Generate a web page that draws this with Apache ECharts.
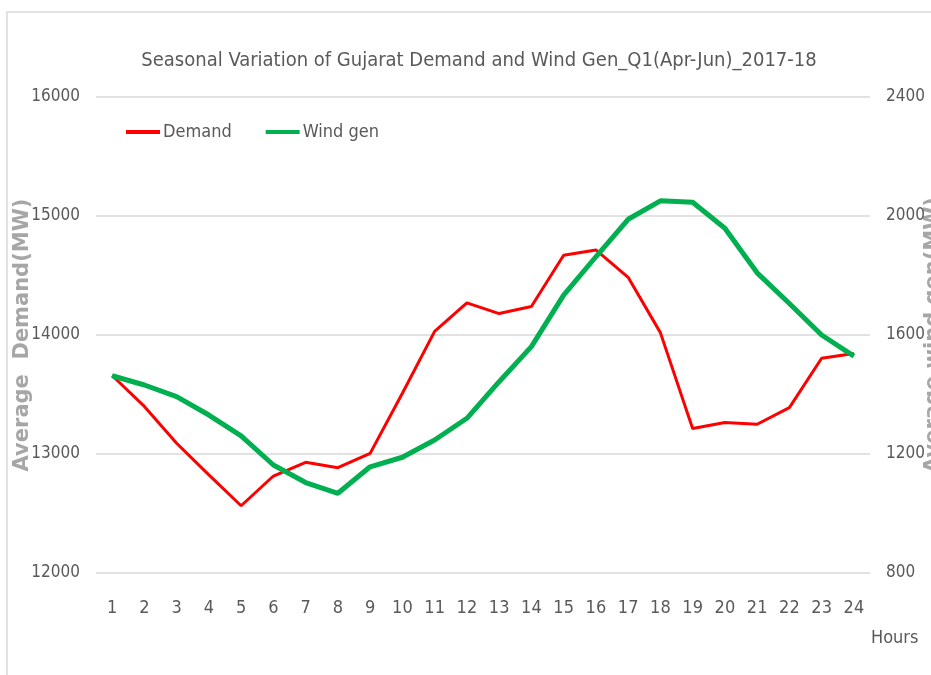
<!DOCTYPE html>
<html>
<head>
<meta charset="utf-8">
<script src="https://cdn.jsdelivr.net/npm/echarts@6/dist/echarts.min.js"></script>
<style>
  html, body { margin: 0; padding: 0; background: #fff; }
  #chart { width: 931px; height: 675px; }
</style>
</head>
<body>
<div id="chart"></div>
<script>
// hours of the day
const hours = ['1', '2', '3', '4', '5', '6', '7', '8', '9', '10', '11', '12',
  '13', '14', '15', '16', '17', '18', '19', '20', '21', '22', '23', '24'];
// average demand, MW (left axis)
const demand = [13660, 13400, 13090, 12825, 12565, 12815, 12930, 12885, 13005, 13510, 14030, 14270,
  14180, 14240, 14670, 14715, 14485, 14020, 13215, 13265, 13250, 13390, 13805, 13845];
// average wind gen, MW (right axis)
const windGen = [1463, 1432, 1393, 1331, 1261, 1163, 1104, 1068, 1157, 1189, 1247, 1320,
  1443, 1561, 1734, 1863, 1989, 2051, 2046, 1959, 1809, 1706, 1600, 1529];

const font = "'DejaVu Sans Condensed', 'Liberation Sans Narrow', Lato, sans-serif";
const grey = '#595959';

let mychart = echarts.init(document.getElementById('chart'));
mychart.setOption({
  animation: false,
  textStyle: { fontFamily: font },
  title: {
    text: 'Seasonal Variation of Gujarat Demand and Wind Gen_Q1(Apr-Jun)_2017-18',
    left: 474,
    textAlign: 'center',
    top: 46,
    textStyle: { color: grey, fontSize: 20, fontWeight: 'normal', fontFamily: font }
  },
  legend: {
    left: 121,
    top: 118,
    icon: 'rect',
    itemWidth: 34,
    itemHeight: 4,
    itemGap: 34,
    textStyle: { color: grey, fontSize: 18, fontFamily: font, padding: [0, 0, 0, -2] },
    data: ['Demand', 'Wind gen']
  },
  grid: { left: 96, right: 61, top: 97, bottom: 102, outerBoundsMode: 'none', containLabel: false },
  xAxis: {
    type: 'category',
    data: hours,
    boundaryGap: true,
    axisLine: { show: false },
    axisTick: { show: false },
    axisLabel: { color: grey, fontSize: 18, margin: 26, interval: 0, fontFamily: font }
  },
  yAxis: [
    {
      type: 'value',
      min: 12000,
      max: 16000,
      interval: 1000,
      name: 'Average  Demand(MW)',
      nameLocation: 'middle',
      nameGap: 63,
      nameMoveOverlap: false,
      nameTextStyle: { color: '#a6a6a6', fontSize: 21, fontWeight: 'bold', fontFamily: 'DejaVu Sans' },
      axisLine: { show: false },
      axisTick: { show: false },
      axisLabel: { color: grey, fontSize: 17, margin: 16, formatter: v => String(v), fontFamily: font },
      splitLine: { lineStyle: { color: '#d9d9d9', width: 1.5 } }
    },
    {
      type: 'value',
      min: 800,
      max: 2400,
      interval: 400,
      name: 'Average wind gen(MW)',
      nameLocation: 'middle',
      nameGap: 53,
      nameMoveOverlap: false,
      nameTextStyle: { color: '#a6a6a6', fontSize: 21, fontWeight: 'bold', fontFamily: 'DejaVu Sans' },
      axisLine: { show: false },
      axisTick: { show: false },
      axisLabel: { color: grey, fontSize: 17, margin: 16, formatter: v => String(v), fontFamily: font },
      splitLine: { show: false }
    }
  ],
  graphic: [
    {
      type: 'rect',
      shape: { x: 7, y: 12, width: 1000, height: 1000 },
      style: { fill: 'none', stroke: '#d9d9d9', lineWidth: 1.5 },
      silent: true
    },
    {
      type: 'text',
      left: 871,
      top: 629,
      style: { text: 'Hours', fill: grey, fontSize: 18, fontFamily: font }
    }
  ],
  series: [
    {
      name: 'Demand',
      type: 'line',
      yAxisIndex: 0,
      data: demand,
      symbol: 'none',
      itemStyle: { color: '#ff0000' },
      lineStyle: { color: '#ff0000', width: 3 }
    },
    {
      name: 'Wind gen',
      type: 'line',
      yAxisIndex: 1,
      data: windGen,
      symbol: 'none',
      itemStyle: { color: '#00b050' },
      lineStyle: { color: '#00b050', width: 5 }
    }
  ]
});
</script>
</body>
</html>
